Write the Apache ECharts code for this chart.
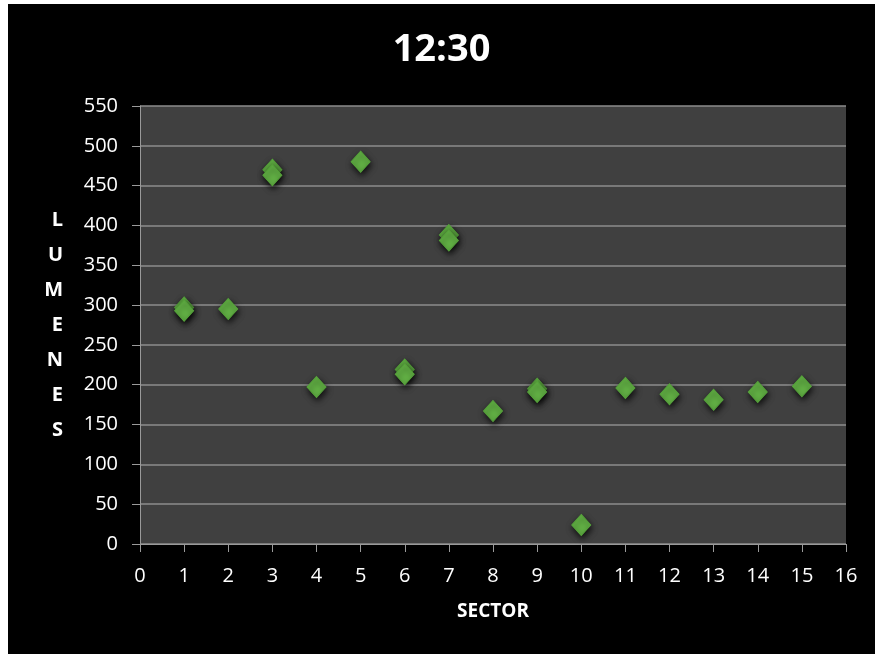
<!DOCTYPE html>
<html>
<head>
<meta charset="utf-8">
<script src="https://cdn.jsdelivr.net/npm/echarts@6/dist/echarts.min.js"></script>
<style>
  html, body { margin: 0; padding: 0; background: #ffffff; }
  #chart { position: absolute; left: 8px; top: 4px; width: 867px; height: 650px; background: #000000; }
</style>
</head>
<body>
<div id="chart"></div>
<script>
// readings per sector (some sectors have two close readings)
var sectors = [1, 1, 2, 3, 3, 4, 5, 6, 6, 7, 7, 8, 9, 9, 10, 11, 12, 13, 14, 15];
var lumens  = [297, 293, 295, 470, 463, 197, 480, 219, 213, 388, 381, 167, 195, 191, 24, 196, 188, 181, 191, 198];

var points = sectors.map(function (s, i) { return [s, lumens[i]]; });

var dom = document.getElementById("chart");
var myChart = echarts.init(dom);
var font = "'Open Sans', 'Noto Sans', sans-serif";

var option = {
    backgroundColor: '#000000',
    title: {
        text: '12:30',
        left: 'center',
        top: 22,
        textStyle: { color: '#ffffff', fontSize: 38, fontWeight: 'bold', fontFamily: font }
    },
    grid: {
        left: 132, top: 102, width: 706, height: 438,
        show: true, backgroundColor: '#404040', borderWidth: 0
    },
    xAxis: {
        type: 'value',
        min: 0, max: 16, interval: 1,
        name: 'SECTOR',
        nameLocation: 'middle',
        nameGap: 58,
        nameTextStyle: { color: '#ffffff', fontSize: 19, fontWeight: 'bold', fontFamily: font },
        axisLine: { show: true, lineStyle: { color: '#9a9a9a', width: 1 } },
        axisTick: { show: true, length: 8, lineStyle: { color: '#9a9a9a' } },
        axisLabel: { color: '#ffffff', fontSize: 20, margin: 22, fontFamily: font },
        splitLine: { show: false }
    },
    yAxis: {
        type: 'value',
        min: 0, max: 550, interval: 50,
        name: 'L\nU\nM\nE\nN\nE\nS',
        nameLocation: 'middle',
        nameRotate: 0,
        nameGap: 77,
        nameTextStyle: { color: '#ffffff', fontSize: 20, fontWeight: 'bold', lineHeight: 35, fontFamily: font },
        axisLine: { show: true, lineStyle: { color: '#9a9a9a', width: 1 } },
        axisTick: { show: true, length: 8, lineStyle: { color: '#9a9a9a' } },
        axisLabel: { color: '#ffffff', fontSize: 20, margin: 22, fontFamily: font },
        splitLine: { show: true, lineStyle: { color: '#8c8c8c', width: 1.5 } }
    },
    series: [{
        type: 'scatter',
        data: points,
        symbol: 'diamond',
        symbolSize: [19, 21],
        itemStyle: {
            color: '#64b446',
            opacity: 1,
            borderColor: '#55a23a',
            borderWidth: 1,
            shadowColor: 'rgba(0,0,0,0.8)',
            shadowBlur: 6,
            shadowOffsetX: 1,
            shadowOffsetY: 3
        }
    }]
};
myChart.setOption(option, true);
</script>
</body>
</html>
